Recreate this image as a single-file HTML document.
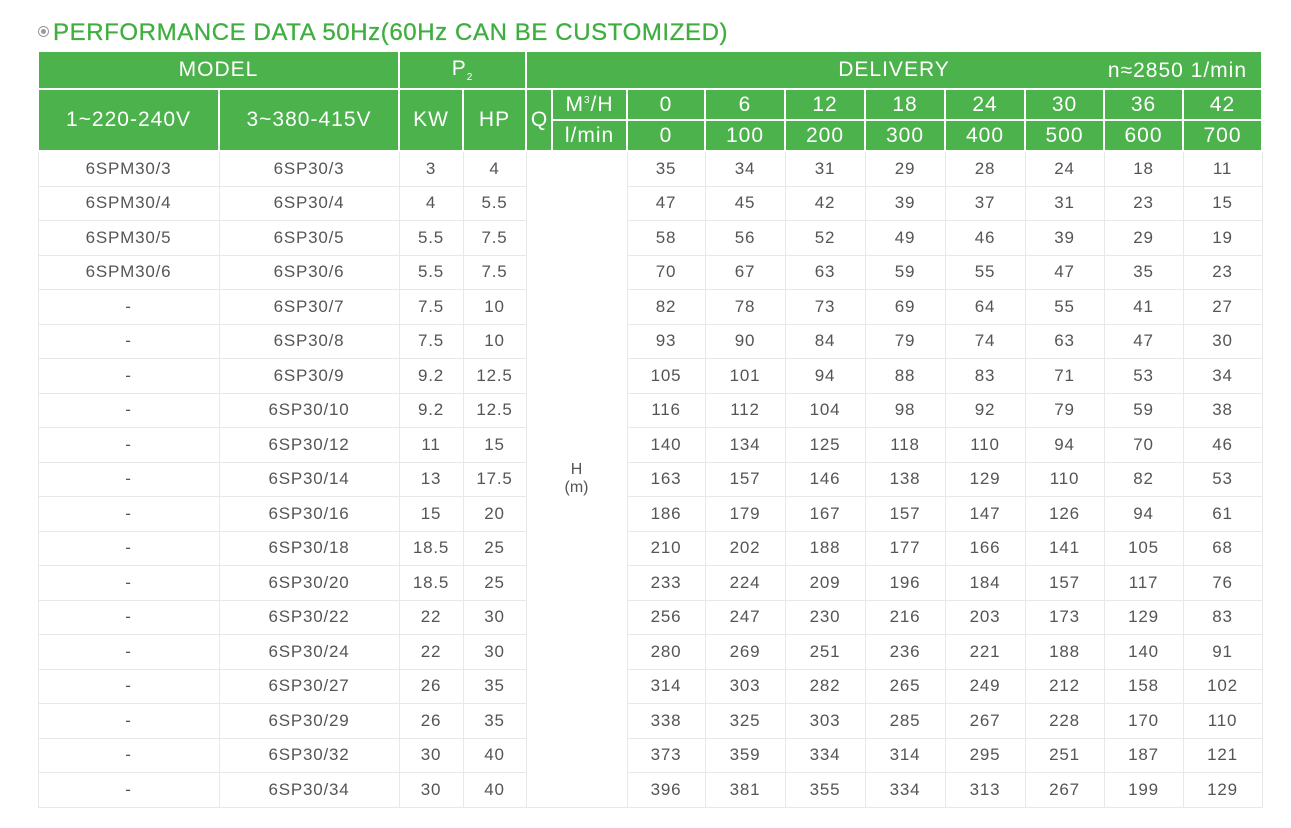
<!DOCTYPE html>
<html><head><meta charset="utf-8"><style>
body{margin:0;background:#fff;width:1291px;height:828px;overflow:hidden;font-family:"Liberation Sans",sans-serif}
.title{position:absolute;left:38px;top:19px;font-size:24px;letter-spacing:0.6px;color:#3fae3f;white-space:nowrap;-webkit-text-stroke:0.3px #3fae3f}
.title .dot{display:inline-block;width:9px;height:9px;border:1px solid #999;border-radius:50%;position:relative;top:-3px;margin-right:4px}
.title .dot:after{content:"";position:absolute;left:2px;top:2px;width:5px;height:5px;border-radius:50%;background:#999}
table{position:absolute;left:37px;top:50px;border-collapse:collapse;table-layout:fixed}
td{padding:0;text-align:center;border:1px solid #e8e8e8;color:#555;font-size:17px;letter-spacing:0.8px;height:33.5px}
th{padding:0;background:#4cb24c;color:#fff;font-weight:normal;border:2px solid #fff;font-size:21px;letter-spacing:1px}
</style></head><body>
<div class="title"><span class="dot"></span>PERFORMANCE DATA 50Hz(60Hz CAN BE CUSTOMIZED)</div>
<table>
<colgroup><col style="width:181px"><col style="width:180px"><col style="width:64px"><col style="width:63px"><col style="width:26px"><col style="width:75px"><col style="width:78px"><col style="width:80px"><col style="width:80px"><col style="width:80px"><col style="width:80px"><col style="width:79px"><col style="width:79px"><col style="width:79px"></colgroup>
<tr style="height:38px"><th colspan="2">MODEL</th><th colspan="2">P<sub style="font-size:10px">2</sub></th><th colspan="10" style="position:relative">DELIVERY<span style="position:absolute;right:14px;top:7px">n≈2850 1/min</span></th></tr>
<tr style="height:31px"><th rowspan="2">1~220-240V</th><th rowspan="2">3~380-415V</th><th rowspan="2">KW</th><th rowspan="2">HP</th><th rowspan="2" style="letter-spacing:0">Q</th><th>M<sup style="font-size:10px">3</sup>/H</th><th>0</th><th>6</th><th>12</th><th>18</th><th>24</th><th>30</th><th>36</th><th>42</th></tr>
<tr style="height:31px"><th>l/min</th><th>0</th><th>100</th><th>200</th><th>300</th><th>400</th><th>500</th><th>600</th><th>700</th></tr>
<tr><td>6SPM30/3</td><td>6SP30/3</td><td>3</td><td>4</td><td colspan="2" rowspan="19" style="line-height:18px;font-size:16px;letter-spacing:0">H<br>(m)</td><td>35</td><td>34</td><td>31</td><td>29</td><td>28</td><td>24</td><td>18</td><td>11</td></tr>
<tr><td>6SPM30/4</td><td>6SP30/4</td><td>4</td><td>5.5</td><td>47</td><td>45</td><td>42</td><td>39</td><td>37</td><td>31</td><td>23</td><td>15</td></tr>
<tr><td>6SPM30/5</td><td>6SP30/5</td><td>5.5</td><td>7.5</td><td>58</td><td>56</td><td>52</td><td>49</td><td>46</td><td>39</td><td>29</td><td>19</td></tr>
<tr><td>6SPM30/6</td><td>6SP30/6</td><td>5.5</td><td>7.5</td><td>70</td><td>67</td><td>63</td><td>59</td><td>55</td><td>47</td><td>35</td><td>23</td></tr>
<tr><td>-</td><td>6SP30/7</td><td>7.5</td><td>10</td><td>82</td><td>78</td><td>73</td><td>69</td><td>64</td><td>55</td><td>41</td><td>27</td></tr>
<tr><td>-</td><td>6SP30/8</td><td>7.5</td><td>10</td><td>93</td><td>90</td><td>84</td><td>79</td><td>74</td><td>63</td><td>47</td><td>30</td></tr>
<tr><td>-</td><td>6SP30/9</td><td>9.2</td><td>12.5</td><td>105</td><td>101</td><td>94</td><td>88</td><td>83</td><td>71</td><td>53</td><td>34</td></tr>
<tr><td>-</td><td>6SP30/10</td><td>9.2</td><td>12.5</td><td>116</td><td>112</td><td>104</td><td>98</td><td>92</td><td>79</td><td>59</td><td>38</td></tr>
<tr><td>-</td><td>6SP30/12</td><td>11</td><td>15</td><td>140</td><td>134</td><td>125</td><td>118</td><td>110</td><td>94</td><td>70</td><td>46</td></tr>
<tr><td>-</td><td>6SP30/14</td><td>13</td><td>17.5</td><td>163</td><td>157</td><td>146</td><td>138</td><td>129</td><td>110</td><td>82</td><td>53</td></tr>
<tr><td>-</td><td>6SP30/16</td><td>15</td><td>20</td><td>186</td><td>179</td><td>167</td><td>157</td><td>147</td><td>126</td><td>94</td><td>61</td></tr>
<tr><td>-</td><td>6SP30/18</td><td>18.5</td><td>25</td><td>210</td><td>202</td><td>188</td><td>177</td><td>166</td><td>141</td><td>105</td><td>68</td></tr>
<tr><td>-</td><td>6SP30/20</td><td>18.5</td><td>25</td><td>233</td><td>224</td><td>209</td><td>196</td><td>184</td><td>157</td><td>117</td><td>76</td></tr>
<tr><td>-</td><td>6SP30/22</td><td>22</td><td>30</td><td>256</td><td>247</td><td>230</td><td>216</td><td>203</td><td>173</td><td>129</td><td>83</td></tr>
<tr><td>-</td><td>6SP30/24</td><td>22</td><td>30</td><td>280</td><td>269</td><td>251</td><td>236</td><td>221</td><td>188</td><td>140</td><td>91</td></tr>
<tr><td>-</td><td>6SP30/27</td><td>26</td><td>35</td><td>314</td><td>303</td><td>282</td><td>265</td><td>249</td><td>212</td><td>158</td><td>102</td></tr>
<tr><td>-</td><td>6SP30/29</td><td>26</td><td>35</td><td>338</td><td>325</td><td>303</td><td>285</td><td>267</td><td>228</td><td>170</td><td>110</td></tr>
<tr><td>-</td><td>6SP30/32</td><td>30</td><td>40</td><td>373</td><td>359</td><td>334</td><td>314</td><td>295</td><td>251</td><td>187</td><td>121</td></tr>
<tr><td>-</td><td>6SP30/34</td><td>30</td><td>40</td><td>396</td><td>381</td><td>355</td><td>334</td><td>313</td><td>267</td><td>199</td><td>129</td></tr>
</table>
</body></html>
